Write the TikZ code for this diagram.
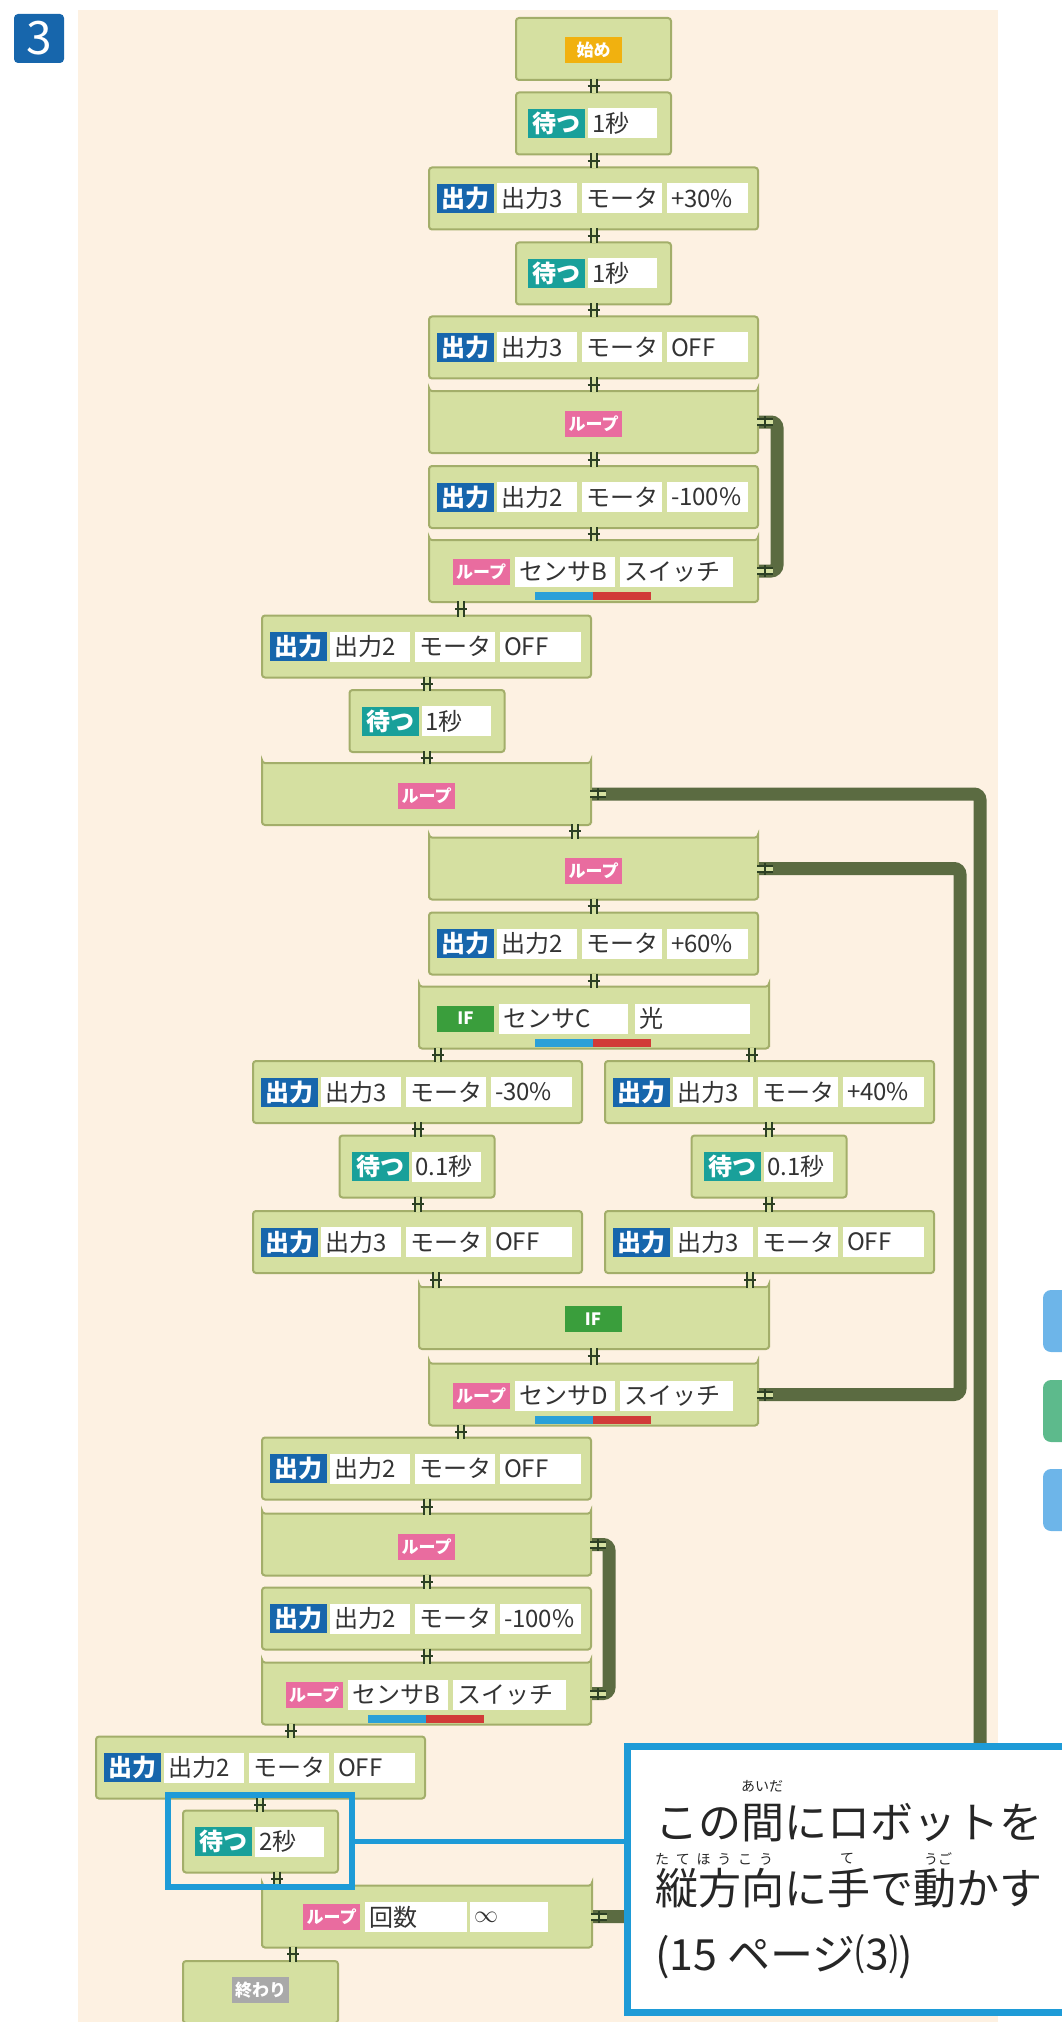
\documentclass[tikz,border=0pt]{standalone}
\usepackage{fontspec}
\setmainfont{Noto Sans CJK JP}
\usetikzlibrary{shapes.misc, decorations.markings}

\definecolor{panel}{HTML}{FDF1E2}
\definecolor{blockfill}{HTML}{D5E0A1}
\definecolor{blockedge}{HTML}{A3AE6A}
\definecolor{outc}{HTML}{1766AC}
\definecolor{waitc}{HTML}{19A09A}
\definecolor{loopc}{HTML}{E96C9F}
\definecolor{ifc}{HTML}{3A9E3C}
\definecolor{startc}{HTML}{F1B10F}
\definecolor{endc}{HTML}{A9A9A9}
\definecolor{barc}{HTML}{5B6B41}
\definecolor{joinc}{HTML}{2C4024}
\definecolor{sblue}{HTML}{2AA0D8}
\definecolor{sred}{HTML}{D13B38}
\definecolor{notec}{HTML}{1E9BD7}
\definecolor{textc}{HTML}{333333}
\definecolor{tabb}{HTML}{6DB5E9}
\definecolor{tabg}{HTML}{5DBA8C}

\tikzset{
  blk/.style={draw=blockedge, line width=1pt, fill=blockfill, rounded corners=1.5pt,
    minimum width=#1*0.5pt, minimum height=31pt, inner sep=0pt},
  loopstart/.style={blk=#1, chamfered rectangle, chamfered rectangle corners={north west, north east},
    chamfered rectangle xsep=3pt, chamfered rectangle ysep=3pt},
  loopend/.style={blk=#1, chamfered rectangle, chamfered rectangle corners={south west, south east},
    chamfered rectangle xsep=3pt, chamfered rectangle ysep=3pt},
  lbl/.style={fill=#1, text=white, inner sep=0pt, minimum width=28.5pt, minimum height=14.5pt,
    font=\fontsize{12}{12}\selectfont\bfseries},
  tag/.style={minimum height=13pt, font=\fontsize{8.5}{9}\selectfont\bfseries},
  fld/.style={fill=white, text=textc, inner xsep=2pt, inner ysep=0pt, text width=#1*0.5pt-4pt,
    minimum height=15pt, align=left, font=\fontsize{12}{12}\selectfont},
  sbar/.style={fill=#1, minimum width=29pt, minimum height=4pt, inner sep=0pt},
  hjoin/.style={draw=joinc, line width=1pt, double=blockfill, double distance=2pt,
    shorten <=-1pt, shorten >=-1pt, postaction={decorate},
    decoration={markings, mark=at position 0.5 with {\draw[joinc, line width=1pt] (0,-2pt) -- (0,2pt);}}},
  loopbar/.style={draw=barc, line width=6.5pt, rounded corners=3pt},
  badge/.style={fill=outc, text=white, rounded corners=2pt, minimum width=25pt, minimum height=24.5pt,
    inner sep=0pt, font=\fontsize{23}{23}\selectfont},
  note/.style={draw=notec, line width=3.5pt, fill=white, minimum width=224pt, minimum height=133pt, inner sep=0pt},
  hilite/.style={draw=notec, line width=3pt, minimum width=92pt, minimum height=46pt, inner sep=0pt},
  captxt/.style={anchor=west, inner sep=0pt, text=black!85, font=\fontsize{21.5}{22}\selectfont},
  ruby/.style={inner sep=0pt, text=black!85, font=\fontsize{7}{7}\selectfont}
}

\begin{document}
\begin{tikzpicture}[x=0.5pt, y=-0.5pt]
  \useasboundingbox (0,0) rectangle (1061,2022);
  \fill[panel] (78,10) rectangle (998,2022);
  \node[badge] (num) at (39,38.5) {3};

  % start and end
  \node[blk=155] (start) at (593.5,49) {};
  \node[lbl=startc, tag] (start-t) at (593.5,50) {始め};
  \node[blk=155] (fin) at (260.5,1992) {};
  \node[lbl=endc, tag] (fin-t) at (260.5,1990) {終わり};

  % output blocks
  \foreach \n/\x/\y/\p/\v in {o1/593.5/198.5/出力3/+30\%, o2/593.5/347.5/出力3/OFF,
      o3/593.5/497/出力2/-100\%, o4/426.5/646.5/出力2/OFF, o5/593.5/943.5/出力2/+60\%,
      o6/417.5/1092/出力3/-30\%, o7/769.5/1092/出力3/+40\%, o8/417.5/1242/出力3/OFF,
      o9/769.5/1242/出力3/OFF, o10/426.5/1468.5/出力2/OFF, o11/426.5/1618.5/出力2/-100\%,
      o12/260.5/1767.5/出力2/OFF} {
    \node[blk=329] (\n) at (\x,\y) {};
    \node[lbl=outc] (\n-t) at (\x-128.5,\y) {出力};
    \node[fld=80] (\n-p) at (\x-56.5,\y) {\p};
    \node[fld=80] (\n-m) at (\x+28.5,\y) {モータ};
    \node[fld=81] (\n-v) at (\x+114,\y) {\v};
  }

  % wait blocks
  \foreach \n/\x/\y/\v in {w1/593.5/123.5/1秒, w2/593.5/273.5/1秒, w3/427/721/1秒,
      w4/417/1166.5/0.1秒, w5/769/1166.5/0.1秒, w6/260.5/1841.5/2秒} {
    \node[blk=155] (\n) at (\x,\y) {};
    \node[lbl=waitc] (\n-t) at (\x-37,\y) {待つ};
    \node[fld=69] (\n-v) at (\x+29,\y) {\v};
  }

  % loop heads
  \foreach \n/\x/\y in {l1/593.5/422, l2/426.5/794, l3/593.5/868.5, l4/426.5/1544.5} {
    \node[loopstart=329] (\n) at (\x,\y) {};
    \node[lbl=loopc, tag] (\n-t) at (\x,\y+2) {ループ};
  }

  % loop tails with sensor
  \foreach \n/\x/\y/\s in {e1/593.5/571/センサB, e2/593.5/1394.5/センサD, e3/426.5/1693.5/センサB} {
    \node[loopend=329] (\n) at (\x,\y) {};
    \node[lbl=loopc, tag] (\n-t) at (\x-112.5,\y+1) {ループ};
    \node[fld=100] (\n-s) at (\x-28.5,\y+1) {\s};
    \node[fld=113] (\n-k) at (\x+83,\y+1) {スイッチ};
    \node[sbar=sblue] (\n-b) at (\x-29.5,\y+25) {};
    \node[sbar=sred] (\n-r) at (\x+28.5,\y+25) {};
  }

  % endless loop tail
  \node[loopend=330] (e4) at (427,1916.5) {};
  \node[lbl=loopc, tag] (e4-t) at (331.5,1917) {ループ};
  \node[fld=102] (e4-s) at (416,1917) {回数};
  \node[fld=78] (e4-k) at (509,1917) {$\infty$};

  % branch
  \node[loopstart=350] (if1) at (594,1017.5) {};
  \node[lbl=ifc, tag] (if1-t) at (465.5,1018.5) {IF};
  \node[fld=129] (if1-s) at (563.5,1018.5) {センサC};
  \node[fld=115] (if1-k) at (692.5,1018.5) {光};
  \node[sbar=sblue] (if1-b) at (564,1042.5) {};
  \node[sbar=sred] (if1-r) at (622,1042.5) {};
  \node[loopend=350] (if2) at (594,1318) {};
  \node[lbl=ifc, tag] (if2-t) at (593,1319) {IF};

  % loop bars
  \foreach \a/\b/\x in {l1/e1/777, l2/e4/980, l3/e2/960, l4/e3/609} {
    \draw[loopbar] (\a.east) -- (\x,0 |- \a.east) -- (\x,0 |- \b.east) -- (\b.east);
    \draw[hjoin] (\a.east) -- ++(12,0);
    \draw[hjoin] (\b.east) -- ++(12,0);
  }

  % joints
  \foreach \a/\b/\x in {start/w1/593.5, w1/o1/593.5, o1/w2/593.5, w2/o2/593.5, o2/l1/593.5,
      l1/o3/593.5, o3/e1/593.5, e1/o4/461, o4/w3/426.5, w3/l2/426.5, l2/l3/575, l3/o5/593.5,
      o5/if1/593.5, if1/o6/438, if1/o7/752, o6/w4/418, o7/w5/769, w4/o8/418, w5/o9/769,
      o8/if2/436, o9/if2/750, if2/e2/593.5, e2/o10/461, o10/l4/426.5, l4/o11/426.5,
      o11/e3/426.5, e3/o12/291, o12/w6/260, w6/e4/277, e4/fin/293}
    \draw[hjoin] (\x,0 |- \a.south) -- (\x,0 |- \b.north);

  % callout
  \node[hilite] (hl) at (260,1841) {};
  \node[note] (note) at (851,1879) {};
  \draw[notec, line width=2.5pt] (hl.east) -- (hl.east -| note.west);
  \node[captxt] (cap1) at (655,1823) {この間にロボットを};
  \node[captxt] (cap2) at (655,1888) {縦方向に手で動かす};
  \node[captxt] (cap3) at (655,1957) {(15 ページ⑶)};
  \node[ruby] (rb1) at (762,1786) {あいだ};
  \node[ruby] (rb2) at (714,1859) {\makebox[59pt][s]{た\hfil て\hfil ほ\hfil う\hfil こ\hfil う}};
  \node[ruby] (rb3) at (847,1859) {て};
  \node[ruby] (rb4) at (938,1859) {うご};

  % side tabs
  \foreach \y/\c in {1321/tabb, 1411/tabg, 1500/tabb}
    \fill[\c, rounded corners=4pt] (1043,\y-31) rectangle (1090,\y+31);
\end{tikzpicture}
\end{document}
